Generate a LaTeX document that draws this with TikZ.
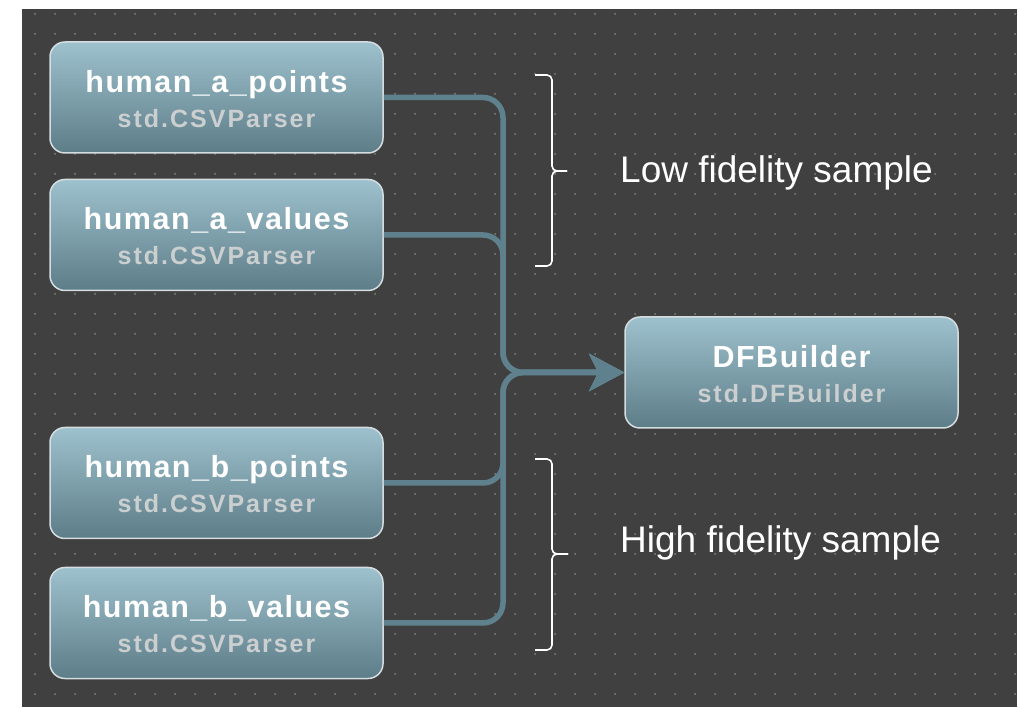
\documentclass[tikz,border=0pt]{standalone}
\usepackage{fontspec}
\setmainfont{Liberation Sans}
\usetikzlibrary{arrows.meta}
\definecolor{bgdark}{HTML}{404040}
\definecolor{dotc}{HTML}{7E8876}
\definecolor{boxtop}{HTML}{9DC1CD}
\definecolor{boxbot}{HTML}{5D7D88}
\definecolor{boxline}{HTML}{D5DDE0}
\definecolor{conn}{HTML}{5E818D}
\definecolor{subc}{HTML}{CBCFCF}
\newfontfamily\titlefont[LetterSpace=5]{Liberation Sans Bold}
\newfontfamily\subfont[LetterSpace=8]{Liberation Sans Bold}
\begin{document}
\begin{tikzpicture}[x=1pt,y=1pt,
  blockbox/.style={draw=boxline, line width=1.5pt, rounded corners=15pt,
    top color=boxtop, bottom color=boxbot, minimum width=333pt, minimum height=111pt,
    inner sep=0pt},
  titletext/.style={anchor=base, text=white, font=\titlefont\fontsize{30.5}{30.5}\selectfont, inner sep=0pt},
  subtext/.style={anchor=base, text=subc, font=\subfont\fontsize{25}{25}\selectfont, inner sep=0pt},
  wire/.style={draw=conn, line width=5.5pt, rounded corners=20pt,
    -{Stealth[length=35pt,width=37pt,inset=9pt]}},
  bracket/.style={draw=white, line width=1.6pt, rounded corners=5pt},
  sidelabel/.style={anchor=base west, text=white, font=\fontsize{37}{37}\selectfont, inner sep=0pt}
]
% background
\fill[white] (0,0) rectangle (1020,707);
\fill[bgdark] (22,0) rectangle (1017,698);
\useasboundingbox (0,0) rectangle (1020,707);
\foreach \i in {0,...,49}{
  \foreach \j in {0,...,34}{
    \fill[dotc] (35+20*\i, 693-20*\j) circle (1pt);
  }
}
% boxes
\node[blockbox] (hap) at (216.5,609.5) {};
\node[blockbox] (hav) at (216.5,472) {};
\node[blockbox] (hbp) at (216.5,224) {};
\node[blockbox] (hbv) at (216.5,84) {};
\node[blockbox] (df) at (791.5,334.5) {};
% texts
\node[titletext] (hapt) at ([yshift=-51pt]hap.north) {human\_a\_points};
\node[subtext] (haps) at ([yshift=-86pt]hap.north) {std.CSVParser};
\node[titletext] (havt) at ([yshift=-51pt]hav.north) {human\_a\_values};
\node[subtext] (havs) at ([yshift=-86pt]hav.north) {std.CSVParser};
\node[titletext] (hbpt) at ([yshift=-51pt]hbp.north) {human\_b\_points};
\node[subtext] (hbps) at ([yshift=-86pt]hbp.north) {std.CSVParser};
\node[titletext] (hbvt) at ([yshift=-51pt]hbv.north) {human\_b\_values};
\node[subtext] (hbvs) at ([yshift=-86pt]hbv.north) {std.CSVParser};
\node[titletext] (dft) at ([yshift=-51pt]df.north) {DFBuilder};
\node[subtext] (dfs) at ([yshift=-86pt]df.north) {std.DFBuilder};
% connectors
\coordinate (bus) at (503,0);
\draw[wire] (hap.east) -| (bus |- df.west) -- (df.west);
\draw[wire] (hav.east) -| (bus |- df.west) -- (df.west);
\draw[wire] (hbp.east) -| (bus |- df.west) -- (df.west);
\draw[wire] (hbv.east) -| (bus |- df.west) -- (df.west);
% brackets
\coordinate (ua) at (535,632);
\coordinate (ub) at (535,441);
\coordinate (um) at (552,536);
\coordinate (ut) at (567,536);
\draw[bracket] (ua) -| (um) -- (ut);
\draw[bracket] (ub) -| (um) -- (ut);
\coordinate (la) at (535,248);
\coordinate (lb) at (535,57);
\coordinate (lm) at (552,153);
\coordinate (lt) at (568,153);
\draw[bracket] (la) -| (lm) -- (lt);
\draw[bracket] (lb) -| (lm) -- (lt);
% labels
\node[sidelabel] (low) at (620,524) {Low fidelity sample};
\node[sidelabel] (high) at (620,154) {High fidelity sample};
\end{tikzpicture}
\end{document}
